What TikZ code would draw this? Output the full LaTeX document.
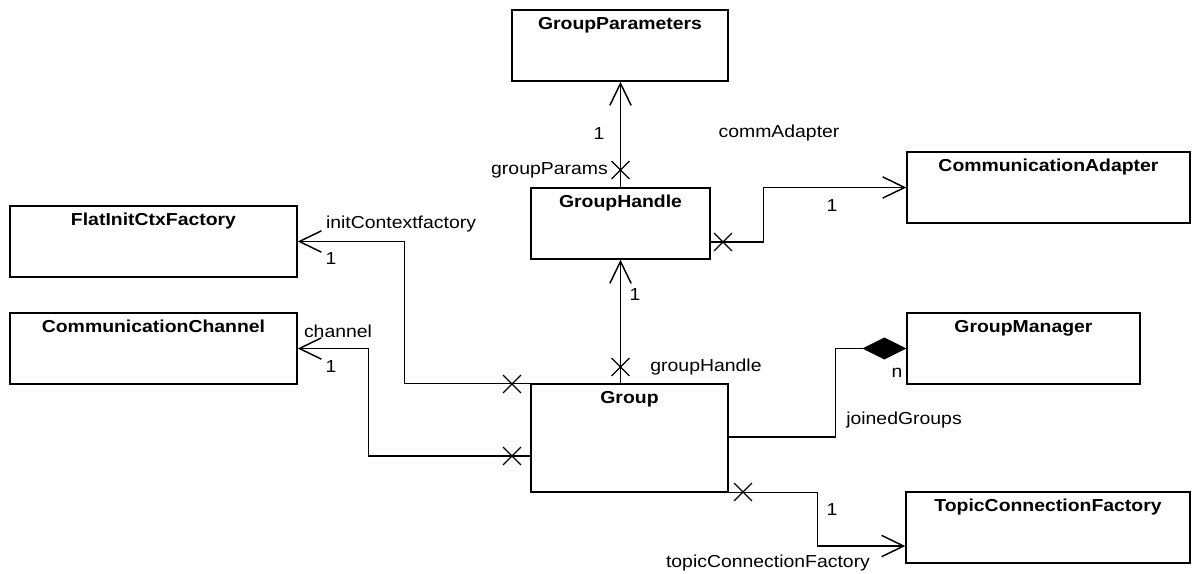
\documentclass[tikz,border=0pt]{standalone}
\usepackage{fontspec}
\setmainfont{Liberation Sans}[FakeStretch=1.12]
\usetikzlibrary{arrows.meta,shapes.misc}
\tikzset{
  cls/.style 2 args={draw, line width=1.1pt, inner sep=0pt,
    minimum width=#1*0.75pt, minimum height=#2*0.75pt},
  ttl/.style={font=\fontsize{13pt}{15pt}\selectfont\bfseries, anchor=base, inner sep=0pt, yshift=-15pt},
  lbl/.style={font=\fontsize{13pt}{15pt}\selectfont, inner sep=0pt},
  link/.style={line width=1.1pt},
  assoc/.style={link, -{Straight Barb[length=16.5pt, width=16pt, line width=1.1pt]}},
  compo/.style={link, -{Diamond[length=33pt, width=16.5pt, fill=black]}},
  xmark/.style={cross out, draw, line width=0.9pt, inner sep=0pt, minimum size=12.5pt},
}
\begin{document}
\begin{tikzpicture}[x=0.75pt, y=-0.75pt]
\useasboundingbox (0,0) rectangle (1193,574);

% classes
\node[cls={216}{71}, label={[ttl]north:GroupParameters}] (gp) at (620,45.5) {};
\node[cls={179}{71}, label={[ttl]north:GroupHandle}] (gh) at (620.5,223.5) {};
\node[cls={283}{71}, label={[ttl]north:CommunicationAdapter}] (ca) at (1048.5,187.5) {};
\node[cls={287}{71}, label={[ttl]north:FlatInitCtxFactory}] (fi) at (153.5,241.5) {};
\node[cls={287}{71}, label={[ttl]north:CommunicationChannel}] (cc) at (153.5,348.5) {};
\node[cls={197}{108}, label={[ttl]north:Group}] (g) at (629.5,438) {};
\node[cls={233}{71}, label={[ttl]north:GroupManager}] (gm) at (1023.5,348.5) {};
\node[cls={284}{71}, label={[ttl]north:TopicConnectionFactory}] (tcf) at (1048,527.5) {};

% GroupHandle -> GroupParameters
\draw[assoc] (gh.north) -- (gh.north |- gp.south);
\node[xmark] (x1) at (620.5,170) {};
\node[lbl] (l1a) at (599,134) {1};
\node[lbl, anchor=east] (l1b) at (608,170) {groupParams};

% GroupHandle -> CommunicationAdapter
\draw[assoc] ([yshift=-13.9pt]gh.east) -- ++(53,0) |- (ca.west);
\node[xmark] (x2) at (723,242) {};
\node[lbl] (l2a) at (832,206) {1};
\node[lbl] (l2b) at (779,133) {commAdapter};

% Group -> FlatInitCtxFactory
\draw[assoc] (g.north west) -- ++(-126,0) |- (fi.east);
\node[xmark] (x3) at (512,384) {};
\node[lbl] (l3a) at (401,224) {initContextfactory};
\node[lbl] (l3b) at (331,259) {1};

% Group -> CommunicationChannel
\draw[assoc] ([yshift=-13.5pt]g.west) -- ++(-162,0) |- (cc.east);
\node[xmark] (x4) at (512,456) {};
\node[lbl] (l4a) at (338,331) {channel};
\node[lbl] (l4b) at (331,367) {1};

% Group -> GroupHandle
\draw[assoc] (gh.south |- g.north) -- (gh.south);
\node[xmark] (x5) at (620.5,367) {};
\node[lbl] (l5a) at (635,295) {1};
\node[lbl] (l5b) at (706,367) {groupHandle};

% Group - GroupManager (composition)
\draw[compo] ([yshift=0.75pt]g.east) -- ++(107,0) |- (gm.west);
\node[lbl] (l6a) at (897,373) {n};
\node[lbl] (l6b) at (904,420) {joinedGroups};

% Group -> TopicConnectionFactory
\draw[assoc] (g.south east) -- ++(89,0) |- ([yshift=-13.9pt]tcf.west);
\node[xmark] (x7) at (743,492) {};
\node[lbl] (l7a) at (832,510) {1};
\node[lbl] (l7b) at (768,563) {topicConnectionFactory};
\end{tikzpicture}
\end{document}
